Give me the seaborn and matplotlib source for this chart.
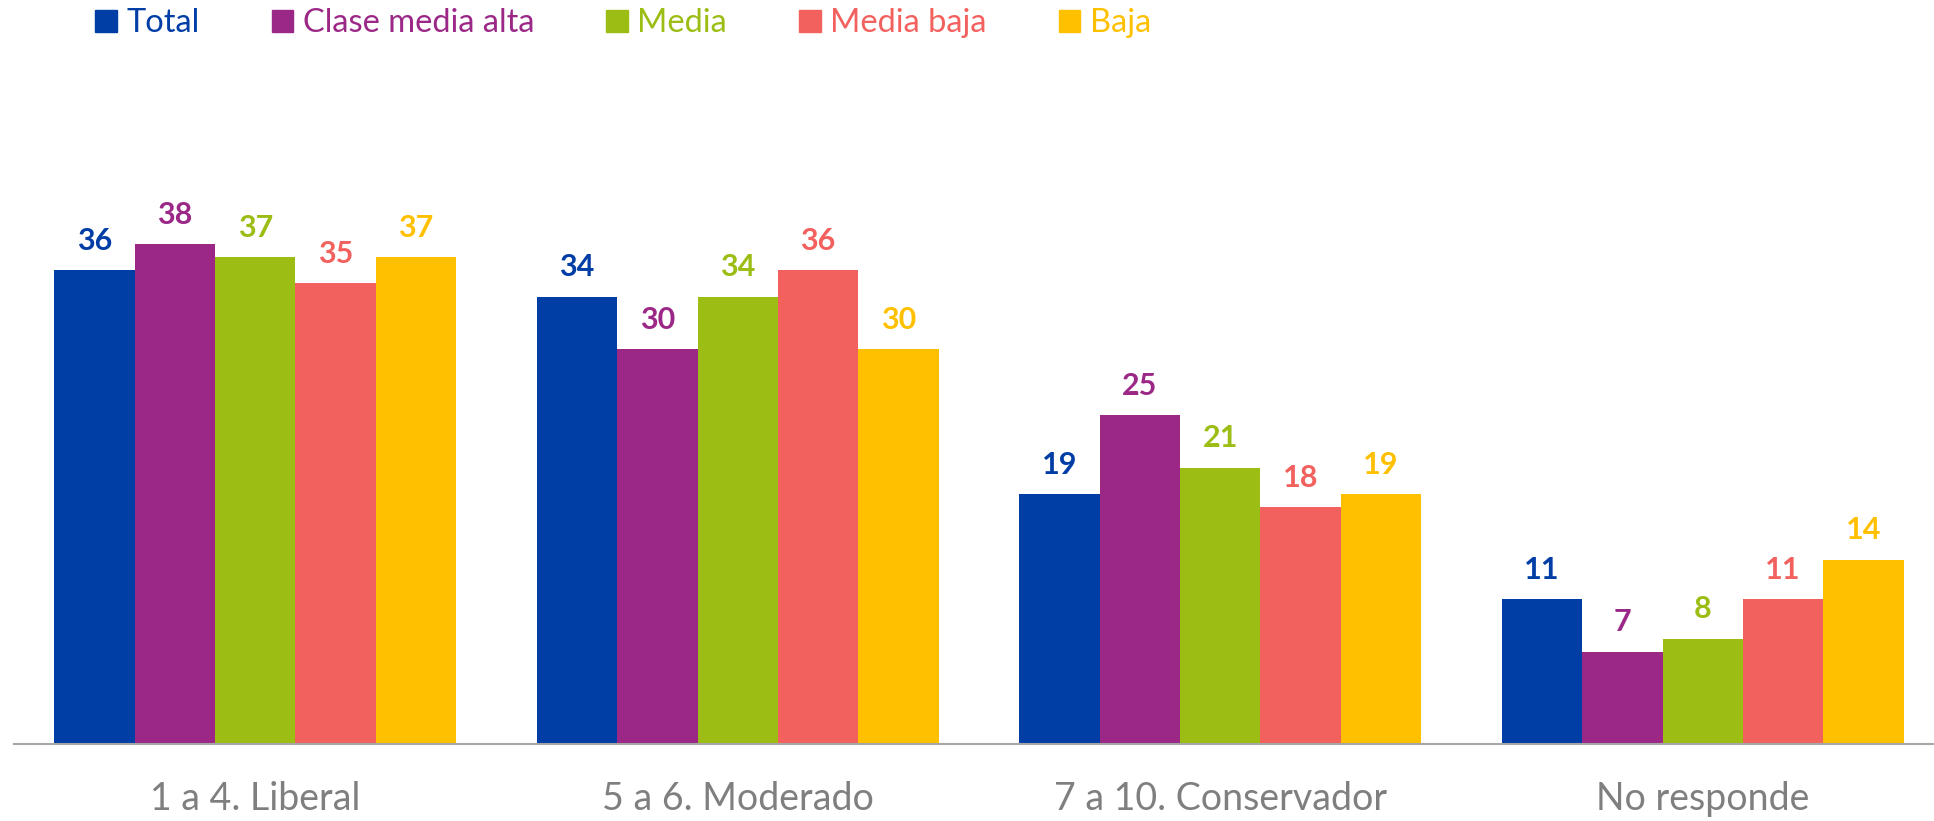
import pandas as pd
import matplotlib
matplotlib.use("Agg")
import matplotlib.pyplot as plt
import seaborn as sns

categorias = ["1 a 4. Liberal", "5 a 6. Moderado", "7 a 10. Conservador", "No responde"]
grupos = ["Total", "Clase media alta", "Media", "Media baja", "Baja"]
total = [36, 34, 19, 11]
media_alta = [38, 30, 25, 7]
media = [37, 34, 21, 8]
media_baja = [35, 36, 18, 11]
baja = [37, 30, 19, 14]
colores = ["#003DA5", "#9B2887", "#9BBD14", "#F2615E", "#FFC000"]

series = [total, media_alta, media, media_baja, baja]
df = pd.DataFrame(
    [(c, g, v) for g, vals in zip(grupos, series) for c, v in zip(categorias, vals)],
    columns=["categoria", "grupo", "valor"],
)

sns.set_style("white")
plt.rcParams["font.family"] = ["Lato", "DejaVu Sans"]

fig = plt.figure(figsize=(19.34, 8.21), dpi=100)
ax = fig.add_axes([0.0072, 0.094, 0.998, 0.721])

sns.barplot(data=df, x="categoria", y="valor", hue="grupo", order=categorias,
            hue_order=grupos, palette=colores, width=0.833, gap=0,
            saturation=1, linewidth=0, ax=ax, legend=False)

for cont, col in zip(ax.containers, colores):
    ax.bar_label(cont, fmt="%d", padding=11, color=col, fontsize=22, fontweight="bold")

ax.set_xlim(-0.5, 3.5)
ax.set_ylim(0, 45)
ax.set_xlabel("")
ax.set_ylabel("")
ax.set_yticks([])
for s in ["top", "left", "right"]:
    ax.spines[s].set_visible(False)
ax.spines["bottom"].set_color("#A6A6A6")
ax.spines["bottom"].set_linewidth(1.5)
ax.tick_params(axis="x", length=0, pad=27, labelsize=27, labelcolor="#7F7F7F")

handles = [plt.Rectangle((0, 0), 1, 1, color=c) for c in colores]
leg = fig.legend(handles, grupos, loc="upper left", bbox_to_anchor=(0.034, 1.026),
                 ncol=5, frameon=False, fontsize=23.5, handlelength=0.66,
                 handleheight=0.66, handletextpad=0.3, columnspacing=2.2)
for t, c in zip(leg.get_texts(), colores):
    t.set_color(c)

fig.savefig("out.png", dpi=100)
